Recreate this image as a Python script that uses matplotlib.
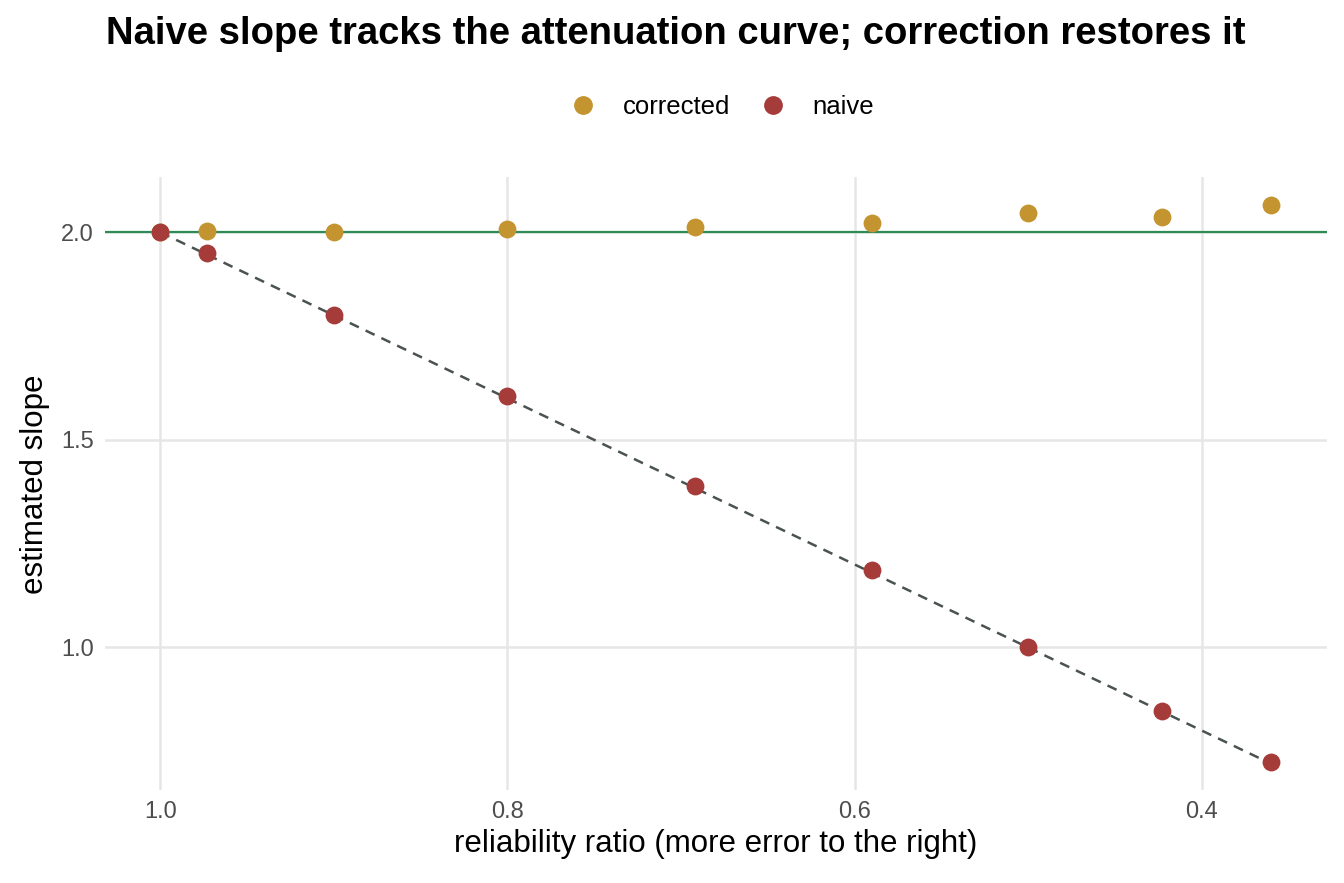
import numpy as np
import matplotlib
matplotlib.use("Agg")
import matplotlib.pyplot as plt
from matplotlib.lines import Line2D

plt.rcParams['font.family'] = ['Liberation Sans', 'DejaVu Sans']

# data
reliability = [1.0, 0.973, 0.9, 0.8, 0.692, 0.59, 0.5, 0.423, 0.36]
naive = [2.0, 1.949, 1.80, 1.605, 1.388, 1.186, 1.002, 0.846, 0.723]
corrected = [2.0, 2.002, 2.0, 2.007, 2.014, 2.022, 2.046, 2.036, 2.065]
true_slope = 2.0

gold = "#C3942F"
red = "#A63C3A"
green = "#2E8B57"
dash_col = "#4A5350"

fig = plt.figure(figsize=(13.44, 8.83), dpi=100)
ax = fig.add_axes([0.078, 0.105, 0.909, 0.694])

ax.axhline(true_slope, color=green, lw=1.6, zorder=2)
rel = np.array(reliability)
ax.plot(rel, true_slope * rel, ls=(0, (4, 3)), color=dash_col, lw=1.8, zorder=2)
ax.scatter(reliability, corrected, s=165, color=gold, zorder=3, linewidths=0)
ax.scatter(reliability, naive, s=165, color=red, zorder=3, linewidths=0)

span = max(reliability) - min(reliability)
ax.set_xlim(max(reliability) + 0.05 * span, min(reliability) - 0.05 * span)
allv = naive + corrected
yspan = max(allv) - min(allv)
ax.set_ylim(min(allv) - 0.05 * yspan, max(allv) + 0.05 * yspan)

ax.set_xticks([1.0, 0.8, 0.6, 0.4])
ax.set_xticklabels(["1.0", "0.8", "0.6", "0.4"])
ax.set_yticks([1.0, 1.5, 2.0])
ax.set_yticklabels(["1.0", "1.5", "2.0"])
ax.grid(True, color="#E6E6E6", lw=1.8)
ax.set_axisbelow(True)
for s in ax.spines.values():
    s.set_visible(False)
ax.tick_params(length=0, labelsize=17, labelcolor="#4D4D4D", pad=8)

ax.set_xlabel("reliability ratio (more error to the right)", fontsize=22.5, labelpad=4)
ax.set_ylabel("estimated slope", fontsize=22.5, labelpad=8)

fig.suptitle("Naive slope tracks the attenuation curve; correction restores it",
             fontsize=27.5, fontweight="bold", x=0.503, y=0.982)

handles = [Line2D([], [], marker='o', ls='', color=gold, markersize=12.5, label="corrected"),
           Line2D([], [], marker='o', ls='', color=red, markersize=12.5, label="naive")]
fig.legend(handles=handles, loc="center", bbox_to_anchor=(0.535, 0.879), ncol=2,
           frameon=False, fontsize=18.5, handletextpad=0.8, columnspacing=0.9,
           handlelength=1.5)

fig.savefig("out.png", dpi=100)
